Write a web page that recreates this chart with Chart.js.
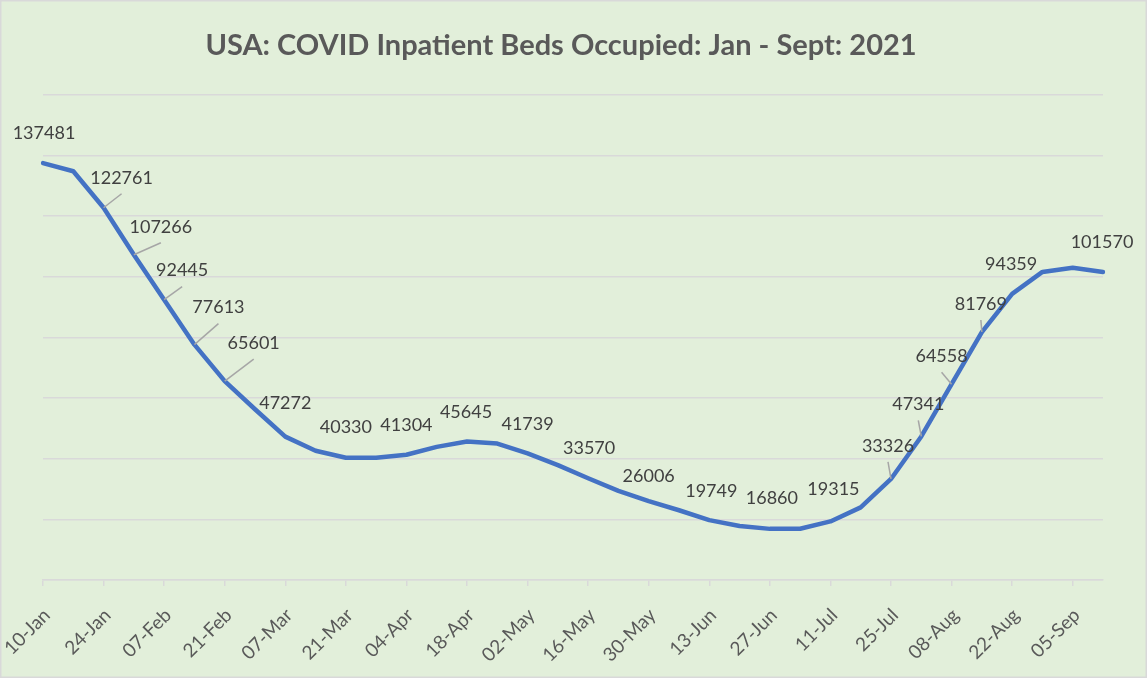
<!DOCTYPE html>
<html>
<head>
<meta charset="utf-8">
<script src="https://cdn.jsdelivr.net/npm/chart.js@4"></script>
<style>
  html, body { margin: 0; padding: 0; background: #e2efda; }
  #wrap { width: 1147px; height: 678px; position: relative; }
</style>
</head>
<body>
<div id="wrap"><canvas id="chart" width="1147" height="678"></canvas></div>
<script>
// weekly dates (2021)
const weeks = [
  '10-Jan', '17-Jan', '24-Jan', '31-Jan', '07-Feb', '14-Feb', '21-Feb', '28-Feb',
  '07-Mar', '14-Mar', '21-Mar', '28-Mar', '04-Apr', '11-Apr', '18-Apr', '25-Apr',
  '02-May', '09-May', '16-May', '23-May', '30-May', '06-Jun', '13-Jun', '20-Jun',
  '27-Jun', '04-Jul', '11-Jul', '18-Jul', '25-Jul', '01-Aug', '08-Aug', '15-Aug',
  '22-Aug', '29-Aug', '05-Sep', '12-Sep'
];

// inpatient beds occupied
const bedsOccupied = [
  137481, 134800, 122761, 107266, 92445, 77613, 65601, 56300,
  47272, 42600, 40330, 40300, 41304, 43900, 45645, 45000,
  41739, 37900, 33570, 29400, 26006, 23000, 19749, 17800,
  16860, 16900, 19315, 23950, 33326, 47341, 64558, 81769,
  94359, 101600, 103000, 101570
];

// which points carry a data label
const labelledPoints = [0, 2, 3, 4, 5, 6, 8, 10, 12, 14, 16, 18, 20, 22, 24, 26, 28, 29, 30, 31, 32, 35];
const withLeader = [2, 3, 4, 5, 6, 28, 29, 30, 31];

const yTicks = [0, 20000, 40000, 60000, 80000, 100000, 120000, 140000, 160000];

// label nudges (px) relative to the point, same order as labelledPoints
const labelNudge = [
  [1, -30], [18, -30], [27, -28], [18, -29], [24, -37], [29, -38],
  [0, -33], [0, -31], [0, -30], [-1, -29], [0, -29], [1, -30],
  [0, -25], [2, -29], [2, -31], [3, -32], [-3, -33], [-3, -32],
  [-10, -28], [-1, -28], [-1, -30], [-1, -30]
];

const bgPlugin = {
  id: 'bg',
  beforeDraw(chart) {
    const { ctx, width, height } = chart;
    ctx.save();
    ctx.fillStyle = '#e2efda';
    ctx.fillRect(0, 0, width, height);
    ctx.strokeStyle = '#d9d9d9';
    ctx.lineWidth = 1.5;
    ctx.strokeRect(0.75, 0.75, width - 1.5, height - 1.5);
    ctx.restore();
  }
};

const dataLabels = {
  id: 'dataLabels',
  afterDatasetsDraw(chart) {
    const { ctx } = chart;
    const meta = chart.getDatasetMeta(0);
    ctx.save();
    ctx.font = '18px Lato';
    ctx.fillStyle = '#404040';
    ctx.textAlign = 'center';
    ctx.textBaseline = 'middle';
    labelledPoints.forEach((i, k) => {
      const pt = meta.data[i];
      const lx = pt.x + labelNudge[k][0];
      const ly = pt.y + labelNudge[k][1];
      if (withLeader.includes(i)) {
        ctx.strokeStyle = '#a6a6a6';
        ctx.lineWidth = 1.5;
        ctx.beginPath();
        ctx.moveTo(lx, ly + 16);
        ctx.lineTo(pt.x, pt.y);
        ctx.stroke();
      }
      ctx.fillText(String(bedsOccupied[i]), lx, ly);
    });
    ctx.restore();
  }
};

new Chart(document.getElementById('chart'), {
  type: 'line',
  data: {
    labels: weeks,
    datasets: [{
      label: 'Beds Occupied',
      data: bedsOccupied,
      borderColor: '#4472c4',
      borderWidth: 4.5,
      borderCapStyle: 'round',
      borderJoinStyle: 'round',
      pointRadius: 0,
      tension: 0,
      fill: false
    }]
  },
  options: {
    responsive: false,
    animation: false,
    layout: { padding: { left: 19, right: 44, top: 0, bottom: 0 } },
    plugins: {
      legend: { display: false },
      tooltip: { enabled: false },
      title: {
        display: true,
        text: 'USA: COVID Inpatient Beds Occupied: Jan - Sept: 2021',
        color: '#595959',
        font: { family: 'Lato', size: 29, weight: 'bold' },
        padding: { top: 28, bottom: 32 }
      }
    },
    scales: {
      x: {
        offset: false,
        afterFit: (scale) => {
          scale.height = 98;
          scale.paddingLeft = 43;
          scale.paddingRight = 0;
        },
        border: { display: true, color: '#d9d9d9', width: 1.5 },
        grid: {
          drawOnChartArea: false,
          tickLength: 6,
          lineWidth: 1.5,
          color: (c) => (c.index % 2 === 0 ? '#d9d9d9' : 'rgba(0,0,0,0)'),
          tickColor: (c) => (c.index % 2 === 0 ? '#d9d9d9' : 'rgba(0,0,0,0)')
        },
        ticks: {
          autoSkip: false,
          minRotation: 45,
          maxRotation: 45,
          padding: 18,
          labelOffset: 4,
          color: '#595959',
          font: { family: 'Lato', size: 19 },
          callback: function (value, index) {
            return index % 2 === 0 ? this.getLabelForValue(value) : '';
          }
        }
      },
      y: {
        min: yTicks[0],
        max: yTicks[yTicks.length - 1],
        afterBuildTicks: (scale) => { scale.ticks = yTicks.map((v) => ({ value: v })); },
        border: { display: false },
        grid: { color: '#d9d9d9', lineWidth: 1.5, drawTicks: false },
        ticks: { display: false }
      }
    }
  },
  plugins: [bgPlugin, dataLabels]
});
</script>
</body>
</html>
